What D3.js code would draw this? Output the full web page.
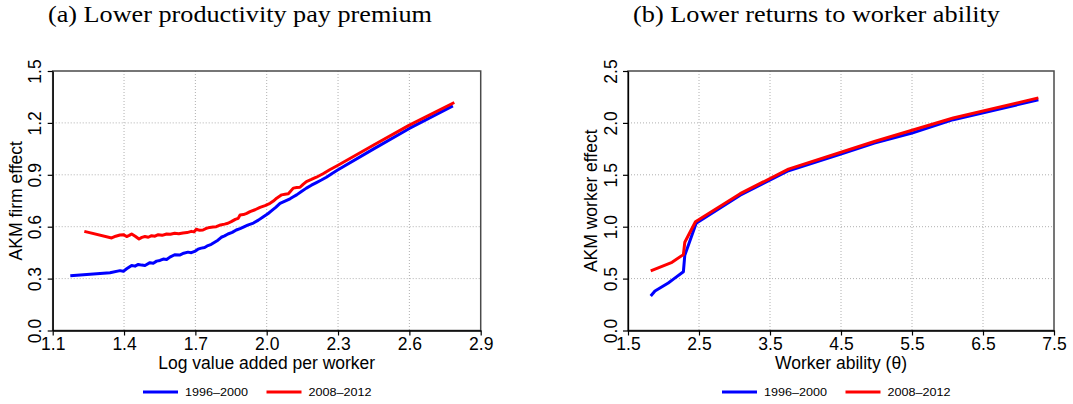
<!DOCTYPE html>
<html>
<head>
<meta charset="utf-8">
<script src="https://cdn.jsdelivr.net/npm/d3@7"></script>
<style>
  body { margin: 0; background: #fff; }
  svg { display: block; }
</style>
</head>
<body>
<div id="chart"></div>
<script>
// Panel titles and axis labels
const panelTitles = ["(a) Lower productivity pay premium", "(b) Lower returns to worker ability"];
const xTitles = ["Log value added per worker", "Worker ability (\u03B8)"];
const yTitles = ["AKM firm effect", "AKM worker effect"];
const seriesNames = ["1996\u20132000", "2008\u20132012"];

// Tick values
const firmXTicks = [1.1, 1.4, 1.7, 2.0, 2.3, 2.6, 2.9];
const firmYTicks = [0.0, 0.3, 0.6, 0.9, 1.2, 1.5];
const workerXTicks = [1.5, 2.5, 3.5, 4.5, 5.5, 6.5, 7.5];
const workerYTicks = [0.0, 0.5, 1.0, 1.5, 2.0, 2.5];

// (a) firm effect by log value added per worker, [x, y]
const firm1996 = [[1.174,0.317],[1.341,0.334],[1.383,0.346],[1.397,0.342],[1.411,0.357],[1.432,0.376],[1.446,0.372],[1.46,0.382],[1.474,0.378],[1.488,0.376],[1.509,0.392],[1.523,0.389],[1.537,0.401],[1.551,0.405],[1.565,0.413],[1.579,0.41],[1.593,0.424],[1.613,0.438],[1.634,0.436],[1.651,0.447],[1.669,0.453],[1.683,0.45],[1.697,0.457],[1.711,0.47],[1.725,0.476],[1.739,0.48],[1.753,0.491],[1.767,0.498],[1.781,0.51],[1.795,0.522],[1.809,0.539],[1.823,0.547],[1.837,0.558],[1.855,0.567],[1.872,0.581],[1.888,0.589],[1.902,0.598],[1.92,0.609],[1.944,0.621],[1.965,0.638],[1.986,0.658],[2.005,0.675],[2.021,0.693],[2.038,0.712],[2.056,0.735],[2.077,0.748],[2.098,0.761],[2.112,0.773],[2.126,0.784],[2.146,0.803],[2.167,0.823],[2.188,0.84],[2.209,0.855],[2.23,0.87],[2.251,0.886],[2.275,0.908],[2.3,0.929],[2.45,1.05],[2.6,1.168],[2.783,1.298]];
const firm2008 = [[1.233,0.573],[1.348,0.535],[1.365,0.545],[1.383,0.552],[1.397,0.554],[1.411,0.543],[1.422,0.55],[1.432,0.558],[1.447,0.545],[1.463,0.529],[1.475,0.538],[1.488,0.543],[1.502,0.539],[1.516,0.548],[1.53,0.545],[1.544,0.554],[1.56,0.55],[1.579,0.558],[1.595,0.556],[1.613,0.562],[1.63,0.559],[1.648,0.564],[1.665,0.566],[1.683,0.573],[1.694,0.57],[1.704,0.585],[1.718,0.579],[1.732,0.581],[1.746,0.59],[1.76,0.596],[1.774,0.598],[1.788,0.6],[1.806,0.61],[1.823,0.615],[1.837,0.62],[1.851,0.629],[1.868,0.642],[1.88,0.648],[1.888,0.668],[1.902,0.67],[1.916,0.677],[1.93,0.687],[1.951,0.698],[1.972,0.712],[1.993,0.722],[2.014,0.735],[2.028,0.748],[2.042,0.765],[2.063,0.784],[2.077,0.787],[2.091,0.79],[2.112,0.823],[2.126,0.826],[2.14,0.828],[2.153,0.845],[2.167,0.861],[2.188,0.873],[2.209,0.886],[2.237,0.906],[2.265,0.929],[2.3,0.955],[2.45,1.072],[2.6,1.187],[2.789,1.318]];

// (b) worker effect by worker ability
const worker1996 = [[1.82,0.332],[1.88,0.38],[2.067,0.458],[2.14,0.495],[2.28,0.566],[2.3,0.726],[2.46,1.033],[3.08,1.303],[3.76,1.539],[4.53,1.708],[4.97,1.805],[5.5,1.902],[6.08,2.031],[7.28,2.222]];
const worker2008 = [[1.82,0.575],[2.12,0.657],[2.28,0.731],[2.3,0.85],[2.45,1.048],[3.08,1.318],[3.76,1.555],[4.97,1.821],[6.08,2.047],[7.28,2.241]];

const width = 1073, height = 404;
const colors = ["#0000ff", "#ff0000"];
const sans = "'Liberation Sans', Arial, Helvetica, sans-serif";

const svg = d3.select('#chart')
  .append('svg')
  .attr('width', width)
  .attr('height', height)
  .style('background', '#fff');

const panels = [
  { left: 52.7, right: 480.7, xTicks: firmXTicks, yTicks: firmYTicks, series: [firm1996, firm2008],
    titleX: 48, titleLen: 384, legendX: 143 },
  { left: 628, right: 1054, xTicks: workerXTicks, yTicks: workerYTicks, series: [worker1996, worker2008],
    titleX: 633, titleLen: 367, legendX: 722 }
];
const plotTop = 71, plotBottom = 330.5;

panels.forEach((p, i) => {
  const x = d3.scaleLinear()
    .domain(d3.extent(p.xTicks))
    .range([p.left, p.right]);
  const y = d3.scaleLinear()
    .domain(d3.extent(p.yTicks))
    .range([plotBottom, plotTop]);

  // dotted grid
  svg.append('g')
    .selectAll('line')
    .data(p.xTicks.slice(1, -1))
    .enter().append('line')
    .attr('x1', d => x(d)).attr('x2', d => x(d))
    .attr('y1', plotTop).attr('y2', plotBottom)
    .attr('stroke', '#b0b0b0').attr('stroke-width', 1)
    .attr('stroke-dasharray', '1,2');
  svg.append('g')
    .selectAll('line')
    .data(p.yTicks.slice(1, -1))
    .enter().append('line')
    .attr('x1', p.left).attr('x2', p.right)
    .attr('y1', d => y(d)).attr('y2', d => y(d))
    .attr('stroke', '#b0b0b0').attr('stroke-width', 1)
    .attr('stroke-dasharray', '1,2');

  // frame
  svg.append('rect')
    .attr('x', p.left).attr('y', plotTop)
    .attr('width', p.right - p.left).attr('height', plotBottom - plotTop)
    .attr('fill', 'none')
    .attr('stroke', '#4a4a4a').attr('stroke-width', 1.5);

  // lines
  p.series.forEach((s, k) => {
    svg.append('path')
      .datum(s)
      .attr('fill', 'none')
      .attr('stroke', colors[k])
      .attr('stroke-width', 3)
      .attr('stroke-linejoin', 'round')
      .attr('d', d3.line().x(d => x(d[0])).y(d => y(d[1])));
  });

  // x axis
  const gx = svg.append('g')
    .attr('transform', `translate(0, ${plotBottom})`)
    .call(d3.axisBottom(x).tickValues(p.xTicks).tickFormat(d3.format('.1f')).tickSize(5).tickSizeOuter(0).tickPadding(3));
  gx.select('.domain').attr('stroke', '#000').attr('stroke-width', 1.3);
  gx.selectAll('.tick line').attr('stroke', '#000').attr('stroke-width', 1.2);
  gx.selectAll('text')
    .attr('fill', '#000')
    .attr('dy', null)
    .attr('y', 19.5)
    .style('font-family', sans)
    .style('font-size', '17.5px');

  // y axis with rotated labels
  const gy = svg.append('g')
    .attr('transform', `translate(${p.left}, 0)`)
    .call(d3.axisLeft(y).tickValues(p.yTicks).tickFormat(d3.format('.1f')).tickSize(5).tickSizeOuter(0));
  gy.select('.domain').attr('stroke', '#000').attr('stroke-width', 1.3);
  gy.selectAll('.tick line').attr('stroke', '#000').attr('stroke-width', 1.2);
  gy.selectAll('text')
    .attr('fill', '#000')
    .attr('x', 0)
    .attr('y', -11.5)
    .attr('dy', null)
    .attr('transform', 'rotate(-90)')
    .attr('text-anchor', 'middle')
    .style('font-family', sans)
    .style('font-size', '17.5px');

  // axis titles
  svg.append('text')
    .attr('x', (p.left + p.right) / 2)
    .attr('y', 369)
    .attr('text-anchor', 'middle')
    .style('font-family', sans)
    .style('font-size', '17.5px')
    .text(xTitles[i]);

  svg.append('text')
    .attr('transform', `translate(${p.left - 31}, ${(plotTop + plotBottom) / 2}) rotate(-90)`)
    .attr('text-anchor', 'middle')
    .style('font-family', sans)
    .style('font-size', '17.5px')
    .text(yTitles[i]);

  // panel title
  svg.append('text')
    .attr('x', p.titleX)
    .attr('y', 22)
    .attr('textLength', p.titleLen)
    .attr('lengthAdjust', 'spacingAndGlyphs')
    .style('font-family', "'Liberation Serif', 'DejaVu Serif', serif")
    .style('font-size', '23px')
    .text(panelTitles[i]);

  // legend
  const legend = svg.append('g')
    .attr('transform', `translate(${p.legendX}, 392)`);
  seriesNames.forEach((name, k) => {
    const ox = k * 123.5;
    legend.append('line')
      .attr('x1', ox).attr('x2', ox + 35)
      .attr('y1', 0).attr('y2', 0)
      .attr('stroke', colors[k])
      .attr('stroke-width', 3);
    legend.append('text')
      .attr('x', ox + 42)
      .attr('y', 4)
      .attr('textLength', 63)
      .attr('lengthAdjust', 'spacingAndGlyphs')
      .style('font-family', sans)
      .style('font-size', '11.5px')
      .text(name);
  });
});
</script>
</body>
</html>
